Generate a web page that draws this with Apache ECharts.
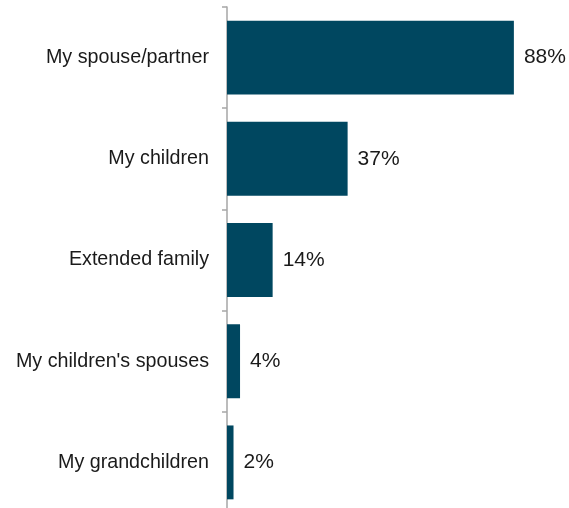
<!DOCTYPE html>
<html>
<head>
<meta charset="utf-8">
<script src="https://cdn.jsdelivr.net/npm/echarts@6/dist/echarts.min.js"></script>
<style>
html,body{margin:0;padding:0;background:#fff;}
#chart{width:569px;height:508px;}
</style>
</head>
<body>
<div id="chart"></div>
<script>
// Who is involved in the decisions (share of respondents, %)
const categories = ['My spouse/partner', 'My children', 'Extended family', "My children's spouses", 'My grandchildren'];
const values = [88, 37, 14, 4, 2];

const chart = echarts.init(document.getElementById('chart'), null, { renderer: 'canvas' });
chart.setOption({
  animation: false,
  grid: { left: 227, top: 7, width: 326, height: 506, containLabel: false, outerBoundsMode: 'none' },
  xAxis: {
    type: 'value', min: 0, max: 100,
    show: false
  },
  yAxis: {
    type: 'category',
    inverse: true,
    data: categories,
    axisLine: { show: true, lineStyle: { color: '#a6a6a6', width: 1.5 } },
    axisTick: { show: true, length: 5, lineStyle: { color: '#a6a6a6', width: 1.5 } },
    axisLabel: { margin: 18, color: '#1a1a1a', fontSize: 19.7, fontFamily: 'Liberation Sans, Arial, sans-serif' }
  },
  series: [{
    type: 'bar',
    data: values,
    barCategoryGap: '27%',
    itemStyle: { color: '#004760' },
    label: {
      show: true, position: 'right', distance: 10,
      formatter: p => p.value + '%',
      color: '#1a1a1a', fontSize: 21, fontFamily: 'Liberation Sans, Arial, sans-serif'
    }
  }]
});
</script>
</body>
</html>
